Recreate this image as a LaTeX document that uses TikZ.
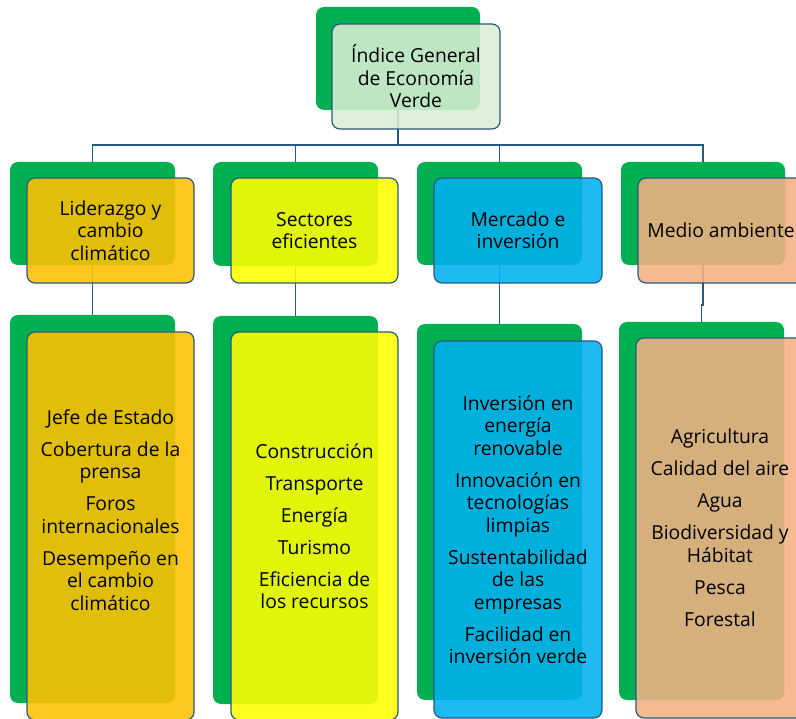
\documentclass[tikz,border=0pt]{standalone}
\usepackage{fontspec}
\setmainfont{Open Sans}
\definecolor{grn}{HTML}{00B050}
\definecolor{lnk}{HTML}{27597F}
\definecolor{topf}{HTML}{D9EED2}
\definecolor{goldf}{HTML}{FFC000}
\definecolor{yelf}{HTML}{FFFF00}
\definecolor{bluef}{HTML}{00B0F0}
\definecolor{peachf}{HTML}{F4B183}
\newcommand{\gp}{\\[9.5pt]}
\begin{document}
\begin{tikzpicture}[x=1pt,y=-1pt,
  back/.style={fill=grn, rounded corners=8pt, inner sep=0pt, minimum width=165pt},
  front/.style={draw=lnk, line width=1.2pt, rounded corners=8pt, fill opacity=0.88, text opacity=1,
    inner sep=0pt, minimum width=167pt, align=center, text=black,
    font=\fontsize{19.3}{22.5}\selectfont},
  lbl/.style={inner sep=0pt, align=center, text=black, font=\fontsize{19.3}{22.5}\selectfont},
  link/.style={draw=lnk, line width=1.5pt}]
\useasboundingbox (0,0) rectangle (796,719);
\clip (0,0) rectangle (796,719);
% green back plates
\node[back, minimum width=164pt, minimum height=103pt] (g0) at (398,58.5) {};
\node[back, minimum height=103pt] (gA) at (92.5,213.5) {};
\node[back, minimum height=104pt] (gB) at (295.5,214) {};
\node[back, minimum height=103pt] (gC) at (499.5,213.5) {};
\node[back, minimum width=164pt, minimum height=103pt] (gD) at (703,213.5) {};
\node[back, minimum height=388pt] (hA) at (92.5,509) {};
\node[back, minimum height=388pt] (hB) at (295.5,510) {};
\node[back, minimum height=376pt] (hC) at (499.5,512) {};
\node[back, minimum height=378pt] (hD) at (701.5,511) {};
% connectors
\coordinate (bus) at (398,145);
\draw[link] (g0.south) -- (bus);
\draw[link] (gA.north) |- (gD.north |- bus) -- (gD.north);
\draw[link] (gB.north) -- (gB.north |- bus);
\draw[link] (gC.north) -- (gC.north |- bus);
\draw[link] (gA.south) -- (hA.north);
\draw[link] (gB.south) -- (hB.north);
\draw[link] (gC.south) -- (hC.north);
\draw[link] (gD.south) -- ++(0,40) -| (hD.north);
% front boxes
\node[front, fill=topf, minimum width=168pt, minimum height=105pt] (f0) at (416,76.5) {Índice General\\de Economía\\Verde};
\node[front, fill=goldf, minimum height=105pt] (fA) at (110.5,230.5) {Liderazgo y\\cambio\\climático};
\node[front, fill=yelf, minimum height=105pt] (fB) at (314.5,230.5) {Sectores\\eficientes};
\node[front, fill=bluef, minimum width=168pt, minimum height=105pt] (fC) at (518,230.5) {Mercado e\\inversión};
\node[front, fill=peachf, minimum width=166pt, minimum height=105pt] (fD) at (721,230.5) {Medio ambiente};
\node[front, fill=goldf, minimum height=388pt] (kA) at (110.5,526) {};
\node[lbl] (tA) at (110.5,510) {Jefe de Estado\gp Cobertura de la\\prensa\gp Foros\\internacionales\gp Desempeño en\\el cambio\\climático};
\node[front, fill=yelf, minimum height=388pt] (kB) at (314.5,526) {Construcción\gp Transporte\gp Energía\gp Turismo\gp Eficiencia de\\los recursos};
\node[front, fill=bluef, minimum width=168pt, minimum height=377pt] (kC) at (518,529.5) {Inversión en\\energía\\renovable\gp Innovación en\\tecnologías\\limpias\gp Sustentabilidad\\de las\\empresas\gp Facilidad en\\inversión verde};
\node[front, fill=peachf, minimum width=168pt, minimum height=380pt] (kD) at (720,528) {Agricultura\gp Calidad del aire\gp Agua\gp Biodiversidad y\\Hábitat\gp Pesca\gp Forestal};
\end{tikzpicture}
\end{document}
